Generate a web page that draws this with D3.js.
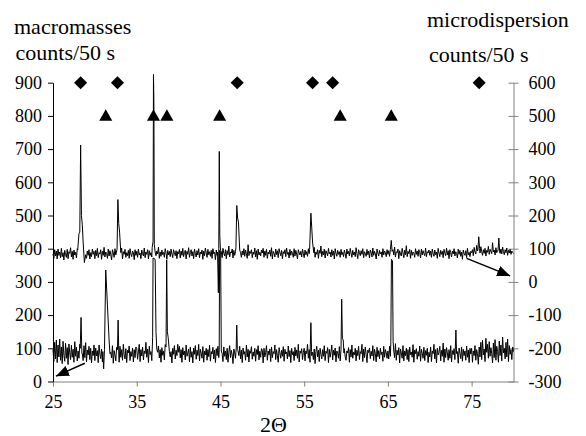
<!DOCTYPE html>
<html>
<head>
<meta charset="utf-8">
<script src="https://cdn.jsdelivr.net/npm/d3@7"></script>
<style>
body{margin:0;background:#fff;}
svg text{font-family:"Liberation Serif",Tinos,"Times New Roman","DejaVu Serif",serif;fill:#000;}
</style>
</head>
<body>
<svg width="586" height="436"></svg>
<script>
const thetaStart = 25, thetaStep = 0.1;
const serifFont = "'Liberation Serif',Tinos,'Times New Roman','DejaVu Serif',serif";

// microdispersion scan, right axis, one value every 0.1 deg from 25 to 80
const microBase = [
  84,71,97,78,93,69,99,80,90,73,101,76,88,66,95,82,74,98,70,91,86,103,75,92,68,96,81,89,72,100,77,94,83,67,98,79,90,74,102,85,71,93,80,97,69,88,76,99,83,92,
  70,95,79,101,73,88,84,97,68,92,80,104,75,90,86,71,99,78,94,82,66,97,87,74,100,81,93,72,89,96,77,85,102,69,91,83,98,74,88,79,95,71,100,84,76,93,89,67,97,80,
  92,74,99,81,87,70,96,85,78,102,73,90,83,97,69,94,80,88,75,101,86,72,98,79,93,84,105,71,90,77,96,82,89,74,100,87,68,95,81,92,76,99,84,73,97,88,79,94,70,91,
  85,98,72,93,80,101,76,89,95,69,92,83,103,74,88,97,78,91,70,99,86,75,94,81,100,73,90,84,96,68,93,79,102,87,74,98,82,91,77,95,71,100,85,89,67,96,80,93,76,99,
  83,92,73,101,86,78,97,70,94,82,108,75,90,87,99,72,95,80,91,76,104,84,69,98,88,74,93,81,100,77,96,85,71,112,79,92,86,97,73,90,83,102,75,94,68,99,81,89,78,96,
  87,101,74,93,80,98,71,90,84,96,77,103,69,92,86,75,99,82,94,73,100,88,79,95,70,91,85,97,76,102,83,89,72,98,80,93,86,74,100,78,95,84,69,97,88,81,92,75,99,86,
  73,96,82,91,77,100,85,70,98,79,93,88,104,74,90,83,97,71,95,86,108,76,92,81,99,72,94,87,78,101,84,90,75,97,80,93,69,100,86,77,95,83,91,74,98,82,89,76,96,85,
  71,99,84,92,78,101,87,74,95,81,90,76,103,85,70,97,88,79,94,83,100,73,91,86,77,98,82,93,72,96,89,75,102,80,92,85,69,99,87,78,95,84,90,74,100,81,93,88,76,97,
  83,94,77,100,86,72,97,81,105,75,91,88,99,70,94,84,78,101,87,73,96,82,109,76,92,85,98,71,95,80,90,86,74,100,83,93,77,97,88,72,99,81,94,85,79,102,76,91,87,96,
  80,93,74,99,85,77,96,82,90,71,101,87,76,95,83,92,73,98,86,79,102,81,94,70,97,88,75,93,84,100,78,91,86,72,99,83,95,77,90,68,96,85,80,94,73,101,82,89,76,92,
  88,97,79,104,90,84,110,93,82,99,87,106,91,80,97,86,101,78,95,89,107,83,98,92,85,118,90,96,81,103,88,94,79,100,86,99,84,105,91,82,97,88,102,80,95,87,98,83,93,89,
  86
];

// macromasses scan, left axis
const macroBase = [
  96,60,118,68,125,57,110,74,128,64,104,54,121,79,61,115,70,102,51,113,86,66,109,73,97,58,120,76,104,62,92,70,112,55,99,84,63,108,72,117,59,95,80,106,66,100,56,92,78,110,
  63,101,77,93,57,110,82,69,98,59,95,84,116,65,90,75,104,61,97,88,71,108,55,93,80,62,103,78,91,58,106,73,96,64,112,80,68,99,57,94,86,107,63,90,76,101,59,96,72,104,
  100,67,89,112,60,96,77,104,65,92,84,118,73,98,57,106,81,90,63,110,75,94,69,100,61,88,107,71,96,58,102,79,92,65,111,76,86,98,60,104,74,90,56,100,82,108,68,94,78,112,
  88,106,71,96,58,102,80,92,65,110,76,86,98,59,104,73,90,56,101,82,108,67,94,78,112,62,97,85,70,105,58,92,80,100,64,96,75,109,61,90,83,103,68,95,57,99,78,106,72,93,
  70,96,84,60,104,76,92,66,100,58,88,108,72,94,80,54,98,86,70,102,62,92,78,106,68,95,57,101,82,90,64,110,74,97,59,93,85,105,67,89,76,100,61,96,81,108,65,91,73,99,
  94,56,100,74,88,108,64,92,80,98,60,104,72,90,84,110,66,96,78,58,102,86,70,94,76,105,61,97,83,89,68,107,75,93,57,100,81,90,63,103,77,95,70,112,59,92,85,99,66,88,
  100,62,92,84,112,70,96,58,104,78,88,66,98,54,90,106,74,94,60,100,82,68,96,76,108,63,91,85,102,57,97,73,89,110,65,94,79,101,59,92,86,70,105,62,96,80,90,67,99,74,
  64,92,86,102,58,96,74,110,70,88,80,100,62,94,78,106,66,90,84,112,60,98,72,104,82,57,95,87,101,69,91,77,108,63,97,84,59,103,75,93,68,100,81,89,61,106,73,96,86,70,
  92,68,106,76,96,58,100,84,72,114,64,94,80,102,56,98,86,70,108,62,92,78,100,66,96,60,104,81,89,73,111,58,95,84,99,67,90,76,107,61,97,85,70,103,63,93,79,100,57,88,
  74,104,60,92,84,112,68,96,56,100,80,88,106,62,94,76,116,58,98,72,102,86,64,96,70,108,59,93,81,99,66,110,75,90,55,101,85,69,104,61,97,78,92,64,107,73,95,57,100,83,
  100,58,92,78,108,64,96,84,52,104,74,118,66,124,80,98,60,130,88,112,70,120,76,102,84,56,116,72,126,64,106,90,58,122,78,110,62,134,86,100,68,118,74,128,60,108,82,96,66,104,
  90
];

const microPeaks = [
  [[27.95,96],[28.1,145],[28.2,150],[28.3,412],[28.4,200],[28.5,172],[28.6,120],[28.75,58],[28.9,82]],
  [[32.65,98],[32.75,248],[32.85,176],[32.95,150],[33.1,88]],
  [[36.85,104],[36.95,122],[37.0,625],[37.05,540],[37.1,112],[37.2,90]],
  [[44.65,90],[44.75,-33],[44.8,100],[44.86,393],[44.92,140],[45.0,96]],
  [[46.85,104],[46.95,230],[47.05,192],[47.15,180],[47.3,96]],
  [[55.65,98],[55.8,207],[55.9,165],[56.0,120],[56.15,88]],
  [[65.3,98],[65.4,125],[65.5,92]],
  [[75.75,96],[75.85,136],[75.95,100]],
  [[78.15,94],[78.25,132],[78.35,90]]
];

const macroPeaks = [
  [[28.25,100],[28.35,193],[28.45,84]],
  [[30.95,90],[31.05,38],[31.15,96],[31.3,336],[31.5,230],[31.7,125],[31.8,84]],
  [[32.7,96],[32.78,185],[32.86,80]],
  [[36.9,132],[36.95,372],[37.2,368],[37.3,150],[37.4,96]],
  [[38.5,104],[38.58,366],[38.66,150],[38.76,132],[38.9,90]],
  [[44.85,88],[44.9,395],[45.02,390],[45.1,92]],
  [[46.88,100],[46.95,170],[47.02,96]],
  [[55.72,92],[55.8,177],[55.88,90]],
  [[59.4,96],[59.48,248],[59.56,130],[59.66,125],[59.75,86]],
  [[65.35,120],[65.42,368],[65.55,364],[65.62,120],[65.7,92]],
  [[73.05,96],[73.12,155],[73.2,84]]
];

const diamondTheta = [28.3,32.7,47.0,56.0,58.4,75.9];
const triangleTheta = [31.3,37.0,38.6,44.9,59.3,65.4];
const diamondLevel = 900, triangleLevel = 800;

const xTicks = [25,35,45,55,65,75];
const leftTicks = [0,100,200,300,400,500,600,700,800,900];
const rightTicks = [-300,-200,-100,0,100,200,300,400,500,600];

// arrows: [theta, value] start -> end
const microArrow = [[74.4,71],[79.6,18]];
const macroArrow = [[28.8,55],[25.35,16]];

const svg = d3.select("svg");

const x = d3.scaleLinear().domain([25,80]).range([53,513.5]);
const yL = d3.scaleLinear().domain([0,900]).range([381.5,82.7]);
const yR = d3.scaleLinear().domain([-300,600]).range([381.5,82.7]);

function buildTrace(base,peaks){
  let windows = peaks.map(p=>[p[0][0],p[p.length-1][0]]);
  let pts = base.map((v,i)=>[thetaStart+i*thetaStep,v])
    .filter(d=>!windows.some(w=>d[0]>=w[0]-0.001 && d[0]<=w[1]+0.001));
  peaks.forEach(p=>{ pts = pts.concat(p); });
  return pts.sort((a,b)=>a[0]-b[0]);
}

const microTrace = buildTrace(microBase,microPeaks);
const macroTrace = buildTrace(macroBase,macroPeaks);

let fmt = d=>String(d);

// axes
let gx = svg.append("g")
  .attr("transform","translate(0,381.5)")
  .call(d3.axisBottom(x).tickValues(xTicks).tickSize(5).tickSizeOuter(0).tickFormat(fmt));
gx.select(".domain").attr("stroke","#808080");
gx.selectAll(".tick line").attr("stroke","#808080");
gx.selectAll("text").attr("y",14).attr("dy","0.71em");

let gl = svg.append("g")
  .attr("transform","translate(53,0)")
  .call(d3.axisLeft(yL).tickValues(leftTicks).tickSize(5).tickSizeOuter(0).tickPadding(6).tickFormat(fmt));
gl.select(".domain").attr("stroke","#000");

let gr = svg.append("g")
  .attr("transform","translate(513.5,0)")
  .call(d3.axisRight(yR).tickValues(rightTicks).tickSize(5).tickSizeOuter(0).tickPadding(10).tickFormat(fmt));
gr.select(".domain").attr("stroke","#808080");
gr.selectAll(".tick line").attr("stroke","#808080").attr("x1",-5).attr("x2",5);

[gx,gl,gr].forEach(g=>{
  g.attr("font-family",serifFont).attr("font-size",18);
  g.selectAll("text").style("font-size","18px").style("font-family",serifFont);
});

// traces
let lineL = d3.line().x(d=>x(d[0])).y(d=>yL(d[1]));
let lineR = d3.line().x(d=>x(d[0])).y(d=>yR(d[1]));

svg.append("path").datum(macroTrace)
  .attr("d",lineL).attr("fill","none").attr("stroke","#000").attr("stroke-width",1);
svg.append("path").datum(microTrace)
  .attr("d",lineR).attr("fill","none").attr("stroke","#000").attr("stroke-width",1);

// phase markers
svg.selectAll(".diamond").data(diamondTheta).enter().append("path")
  .attr("class","diamond")
  .attr("d",d3.symbol().type(d3.symbolSquare).size(86))
  .attr("transform",d=>`translate(${x(d)},${yL(diamondLevel)}) rotate(45)`)
  .attr("fill","#000");
svg.selectAll(".tri").data(triangleTheta).enter().append("path")
  .attr("class","tri")
  .attr("d",d3.symbol().type(d3.symbolTriangle).size(74))
  .attr("transform",d=>`translate(${x(d)},${yL(triangleLevel)+1})`)
  .attr("fill","#000");

// arrows
svg.append("defs").append("marker")
  .attr("id","head").attr("viewBox","0 0 12 10").attr("refX",12).attr("refY",5)
  .attr("markerWidth",13).attr("markerHeight",11).attr("markerUnits","userSpaceOnUse")
  .attr("orient","auto")
  .append("path").attr("d","M0,0L12,5L0,10Z").attr("fill","#000");

svg.append("line")
  .attr("x1",x(microArrow[0][0])).attr("y1",yR(microArrow[0][1]))
  .attr("x2",x(microArrow[1][0])).attr("y2",yR(microArrow[1][1]))
  .attr("stroke","#000").attr("stroke-width",1.5).attr("marker-end","url(#head)");
svg.append("line")
  .attr("x1",x(macroArrow[0][0])).attr("y1",yL(macroArrow[0][1]))
  .attr("x2",x(macroArrow[1][0])).attr("y2",yL(macroArrow[1][1]))
  .attr("stroke","#000").attr("stroke-width",1.5).attr("marker-end","url(#head)");

// titles
let titles = [
  ["macromasses",14,34],
  ["counts/50 s",15.5,60],
  ["microdispersion",427,27],
  ["counts/50 s",429,62]
];
svg.selectAll(".title").data(titles).enter().append("text")
  .attr("class","title")
  .attr("x",d=>d[1]).attr("y",d=>d[2])
  .style("font-family",serifFont).style("font-size","22px").text(d=>d[0]);

svg.append("text").attr("x",273.5).attr("y",432).attr("text-anchor","middle")
  .style("font-family",serifFont).style("font-size","22px").text("2\u0398");
</script>
</body>
</html>
